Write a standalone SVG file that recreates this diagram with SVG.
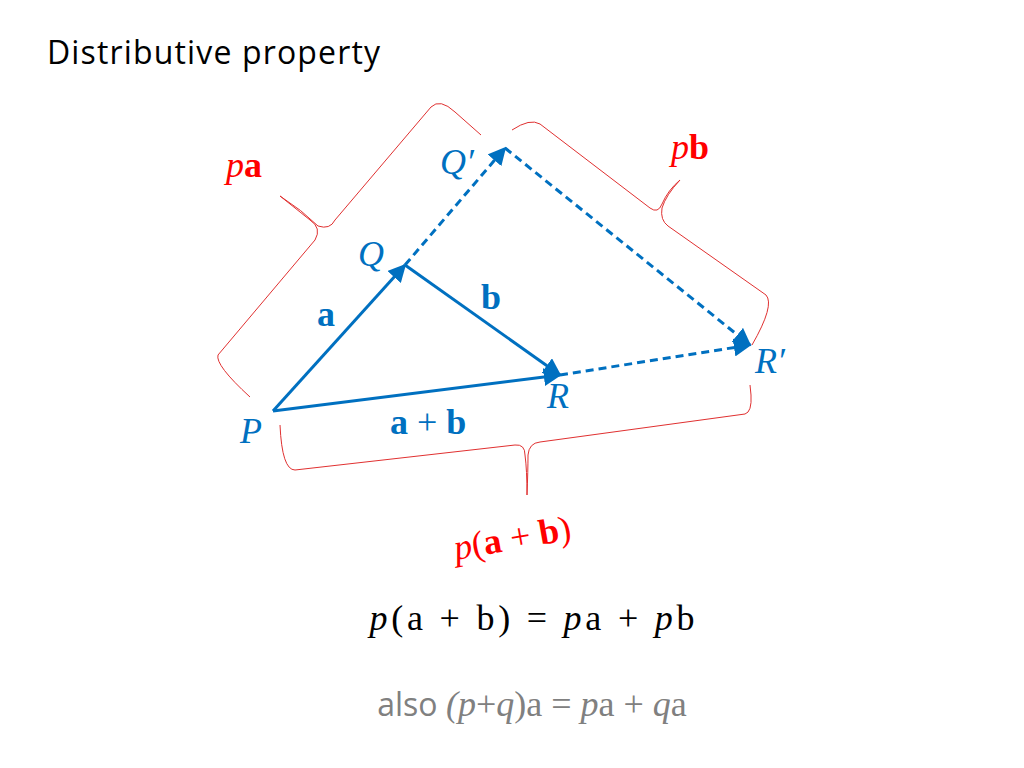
<svg xmlns="http://www.w3.org/2000/svg" width="1024" height="768" viewBox="0 0 1024 768">
<style>
.v{stroke:#0070C0;stroke-width:3;fill:none}
.d{stroke-dasharray:8,5}
.br{stroke:#E03030;stroke-width:1;fill:none}
.lb{font-family:"Liberation Serif",serif;font-size:36px;fill:#0070C0}
.it{font-style:italic}
.bd{font-weight:bold}
.rd{fill:#FF0000}
</style>
<defs><marker id="ah2" viewBox="0 0 10 10" refX="9" refY="5" markerWidth="18" markerHeight="18" orient="auto" markerUnits="userSpaceOnUse"><path d="M0,0L10,5L0,10z" fill="#0070C0"/></marker></defs>
<rect width="1024" height="768" fill="#fff"/>
<text x="47" y="64" font-family="'Open Sans',sans-serif" font-size="32" fill="#000" textLength="333">Distributive property</text>
<g id="connectors">
<line class="v" x1="273" y1="411" x2="405" y2="265" marker-end="url(#ah2)"/>
<line class="v" x1="405" y1="265" x2="560" y2="375" marker-end="url(#ah2)"/>
<line class="v" x1="273" y1="411" x2="560" y2="375" marker-end="url(#ah2)"/>
<line class="v d" x1="405" y1="265" x2="505" y2="148" marker-end="url(#ah2)"/>
<line class="v d" x1="505" y1="148" x2="750" y2="345" marker-end="url(#ah2)"/>
<line class="v d" x1="560" y1="375" x2="750" y2="345" marker-end="url(#ah2)"/>
</g>
<g id="braces">
<path class="br" d="M250,397 Q215,365 218,355 L315,240 Q322,228 310,220 Q295,208 280,196 Q302,210 318,226 Q330,230 335,220 L431,107 Q440,98 455,112 L481,135"/>
<path class="br" d="M512,130 Q530,118 540,124 L650,208 Q658,214 662,204 Q668,190 680,180 Q666,195 662,208 Q660,220 668,226 L766,295 Q775,305 752,345"/>
<path class="br" d="M280,425 Q282,470 295,470 L515,445 Q525,444 525,455 Q527,470 527,495 Q528,470 528,455 Q529,443 540,442 L745,414 Q752,412 751,395 L750,385"/>
</g>
<g id="P"><text class="lb it" x="240" y="443">P</text></g>
<g id="Q"><text class="lb it" x="358" y="266">Q</text></g>
<g id="Qp"><text class="lb it" x="440" y="174">Q′</text></g>
<g id="R"><text class="lb it" x="547" y="408">R</text></g>
<g id="Rp"><text class="lb it" x="755" y="373">R′</text></g>
<text class="lb bd" x="317" y="326">a</text>
<text class="lb bd" x="481" y="309">b</text>
<text class="lb" x="390" y="434"><tspan class="bd">a</tspan> + <tspan class="bd">b</tspan></text>
<text class="lb rd" x="226" y="177"><tspan class="it">p</tspan><tspan class="bd">a</tspan></text>
<text class="lb rd" x="671" y="159"><tspan class="it">p</tspan><tspan class="bd">b</tspan></text>
<text class="lb rd" x="456" y="560" transform="rotate(-10 456 560)"><tspan class="it">p</tspan>(<tspan class="bd">a</tspan> + <tspan class="bd">b</tspan>)</text>
<text x="532" y="630" text-anchor="middle" font-family="'Liberation Serif',serif" font-size="36" fill="#000" textLength="325"><tspan font-style="italic">p</tspan>(a + b) = <tspan font-style="italic">p</tspan>a + <tspan font-style="italic">p</tspan>b</text>
<text x="532" y="716" text-anchor="middle" font-family="'Open Sans',sans-serif" font-size="32" fill="#808080">also <tspan font-family="'Liberation Serif',serif" font-size="36"><tspan font-style="italic">(p</tspan>+<tspan font-style="italic">q</tspan>)a = <tspan font-style="italic">p</tspan>a + <tspan font-style="italic">q</tspan>a</tspan></text>
</svg>
